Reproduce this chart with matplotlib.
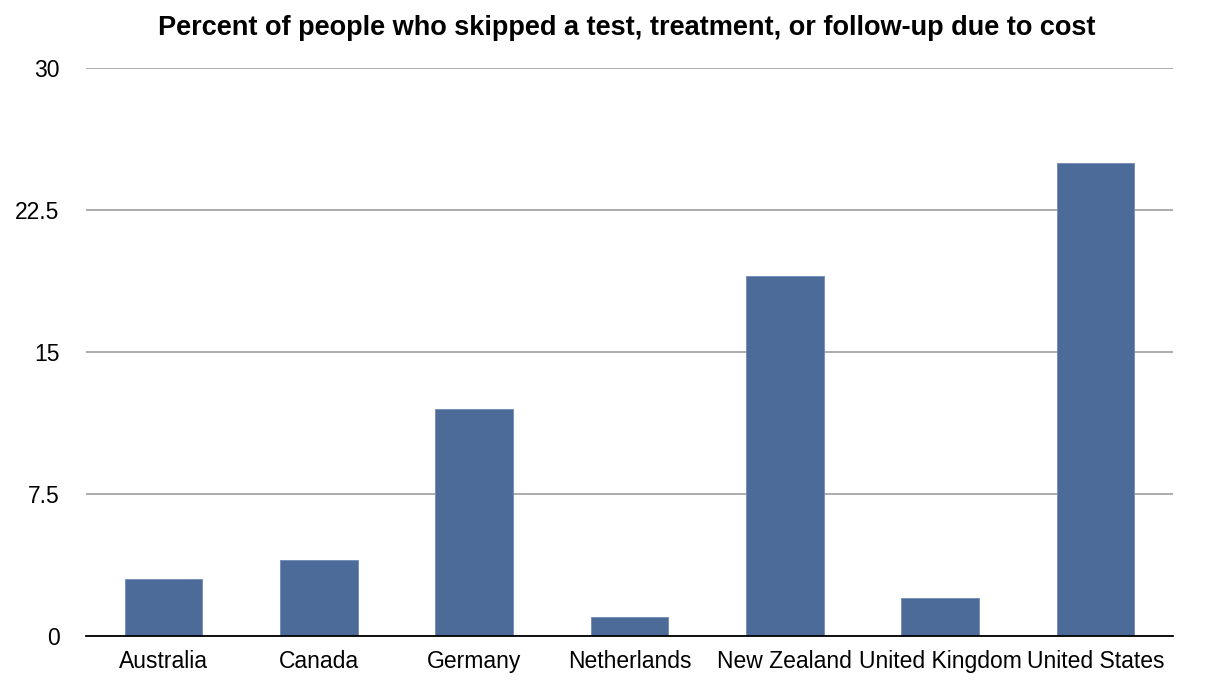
import matplotlib
matplotlib.use("Agg")
import matplotlib.pyplot as plt
import numpy as np

plt.rcParams['font.family'] = ['Liberation Sans', 'DejaVu Sans']

# data
countries = ["Australia", "Canada", "Germany", "Netherlands",
             "New Zealand", "United Kingdom", "United States"]
skipped_pct = [3, 4, 12, 1, 19, 2, 25]
y_ticks = [0, 7.5, 15, 22.5, 30]
y_tick_labels = ["0", "7.5", "15", "22.5", "30"]

fig = plt.figure(figsize=(12.13, 6.87), dpi=100)
ax = fig.add_axes([86 / 1213, 1 - 636 / 687, (1173 - 86) / 1213, (636 - 68) / 687])

x = np.arange(len(countries))
ax.bar(x, skipped_pct, width=0.5, color="#4c6b99", edgecolor="#6f8bb5",
       linewidth=0.6, zorder=3)

ax.set_xlim(-0.5, len(countries) - 0.5)
ax.set_ylim(0, 30)
ax.set_yticks(y_ticks)
ax.set_yticklabels(y_tick_labels)
ax.set_xticks(x)
ax.set_xticklabels(countries, va="baseline")

ax.grid(axis="y", color="#a6a6a6", linewidth=1.3, zorder=0)
for s in ["top", "right", "left"]:
    ax.spines[s].set_visible(False)
ax.spines["bottom"].set_color("black")
ax.spines["bottom"].set_linewidth(1.3)
ax.spines["bottom"].set_zorder(4)

ax.tick_params(axis="y", length=0, pad=19, labelsize=16.5)
ax.tick_params(axis="x", length=0, pad=23, labelsize=16.5)

fig.text(0.5165, 1 - 28 / 687, "Percent of people who skipped a test, treatment, or follow-up due to cost",
         ha="center", va="center", fontsize=19.5, fontweight="bold")

fig.savefig("out.png", dpi=100)
